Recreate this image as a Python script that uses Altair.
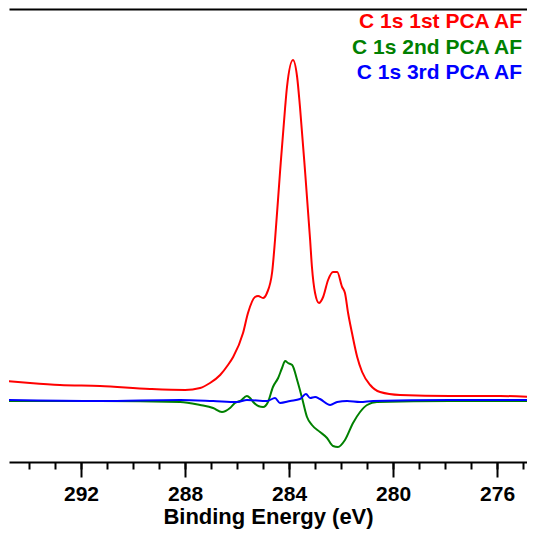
import altair as alt
import pandas as pd

# Binding energy (eV) and intensity (arb. units)
red_ev = [294.88, 293.96, 292.81, 291.27, 289.35, 288.00, 287.42, 287.04, 286.65, 286.35,
          286.15, 285.77, 285.58, 285.31, 285.19, 285.00, 284.85, 284.65, 284.54, 284.35,
          284.15, 284.08, 283.85, 283.69, 283.58, 283.38, 283.19, 283.12, 283.00, 282.85,
          282.69, 282.50, 282.31, 282.15, 281.96, 281.85, 281.73, 281.58, 281.38, 281.19,
          280.88, 280.50, 279.73, 277.81, 275.88, 274.54]
red_val = [84, 82, 80, 79, 76, 75, 77, 82, 90, 100,
           108, 132, 152, 168, 169, 167, 172, 193, 225, 292,
           358, 378, 405, 388, 358, 292, 225, 198, 172, 162,
           168, 185, 193, 193, 178, 172, 152, 132, 108, 93,
           80, 73, 70, 69, 69, 68]

green_ev = [294.88, 291.27, 288.19, 287.42, 286.92, 286.58, 286.27, 286.08, 285.88, 285.62,
            285.50, 285.38, 285.00, 284.81, 284.62, 284.42, 284.27, 284.15, 284.04, 283.88,
            283.69, 283.50, 283.31, 283.12, 282.81, 282.54, 282.31, 282.12, 281.85, 281.54,
            281.27, 281.00, 280.62, 277.81, 274.54]
green_val = [64, 64, 63, 60, 57, 53, 57, 62, 64, 69,
             67, 63, 58, 63, 78, 87, 97, 104, 102, 100,
             85, 67, 48, 40, 33, 27, 19, 18, 25, 42,
             53, 60, 63, 64, 64]

blue_ev = [294.88, 291.27, 288.19, 286.92, 286.00, 285.62, 284.85, 284.54, 284.35, 283.96,
           283.58, 283.35, 283.19, 283.00, 282.81, 282.42, 282.15, 281.77, 281.27, 280.77,
           277.81, 274.54]
blue_val = [65, 64, 65, 64, 63, 65, 64, 67, 62, 64,
            66, 71, 67, 68, 66, 60, 63, 64, 63, 64,
            65, 65]

labels = ["C 1s 1st PCA AF", "C 1s 2nd PCA AF", "C 1s 3rd PCA AF"]
label_colors = ["#ff0000", "#008000", "#0000ff"]
label_ev = [275.04, 275.04, 275.04]
label_val = [437, 411, 386]

major_ticks = [292, 288, 284, 280, 276]
minor_ticks = list(range(275, 295))

FONT = "Liberation Sans"
xscale = alt.Scale(domain=[294.77, 274.85], nice=False, zero=False)
yscale = alt.Scale(domain=[3, 456], nice=False, zero=False)

def frame(ev, val):
    return pd.DataFrame({"ev": ev, "val": val, "i": range(len(ev))})

major_axis = alt.Axis(orient="bottom", values=major_ticks, format="d", tickSize=15,
                      tickWidth=2, tickColor="black", domainWidth=2, domainColor="black",
                      labelFont=FONT, labelFontWeight="bold", labelFontSize=21,
                      labelColor="black", labelPadding=6, title="Binding Energy (eV)",
                      titleFont=FONT, titleFontSize=22, titleFontWeight="bold",
                      titleColor="black", titlePadding=2, grid=False)
minor_axis = alt.Axis(orient="bottom", values=minor_ticks, tickSize=7, tickWidth=2,
                      tickColor="black", labels=False, domain=False, title=None, grid=False)
top_axis = alt.Axis(orient="top", domain=True, domainWidth=2, domainColor="black",
                    ticks=False, labels=False, title=None, grid=False)
yaxis = alt.Axis(domain=True, domainWidth=2, domainColor="black", ticks=False,
                 labels=False, title=None, grid=False)

red = alt.Chart(frame(red_ev, red_val)).mark_line(
    color="#ff0000", strokeWidth=2, clip=True, interpolate="monotone").encode(
    x=alt.X("ev:Q", scale=xscale, axis=major_axis),
    y=alt.Y("val:Q", scale=yscale, axis=yaxis),
    order="i:Q")
green = alt.Chart(frame(green_ev, green_val)).mark_line(
    color="#008000", strokeWidth=2, clip=True, interpolate="monotone").encode(
    x=alt.X("ev:Q", scale=xscale, axis=minor_axis),
    y=alt.Y("val:Q", scale=yscale, axis=yaxis),
    order="i:Q")
blue = alt.Chart(frame(blue_ev, blue_val)).mark_line(
    color="#0000ff", strokeWidth=2, clip=True, interpolate="monotone").encode(
    x=alt.X("ev:Q", scale=xscale, axis=top_axis),
    y=alt.Y("val:Q", scale=yscale, axis=yaxis),
    order="i:Q")

text_df = pd.DataFrame({"label": labels, "color": label_colors, "ev": label_ev, "val": label_val})
text = alt.Chart(text_df).mark_text(
    align="right", baseline="alphabetic", font=FONT, fontSize=21, fontWeight="bold").encode(
    x=alt.X("ev:Q", scale=xscale, axis=None),
    y=alt.Y("val:Q", scale=yscale, axis=None),
    text="label:N",
    color=alt.Color("color:N", scale=None))

chart = alt.layer(red, green, blue, text).resolve_axis(x="independent").properties(
    width=518, height=453,
    autosize=alt.AutoSizeParams(type="none"),
    padding={"left": 1, "top": 1, "right": 0, "bottom": 68},
).configure_view(stroke=None)

chart.save("out.html", embed_options={"renderer": "svg", "actions": False})
